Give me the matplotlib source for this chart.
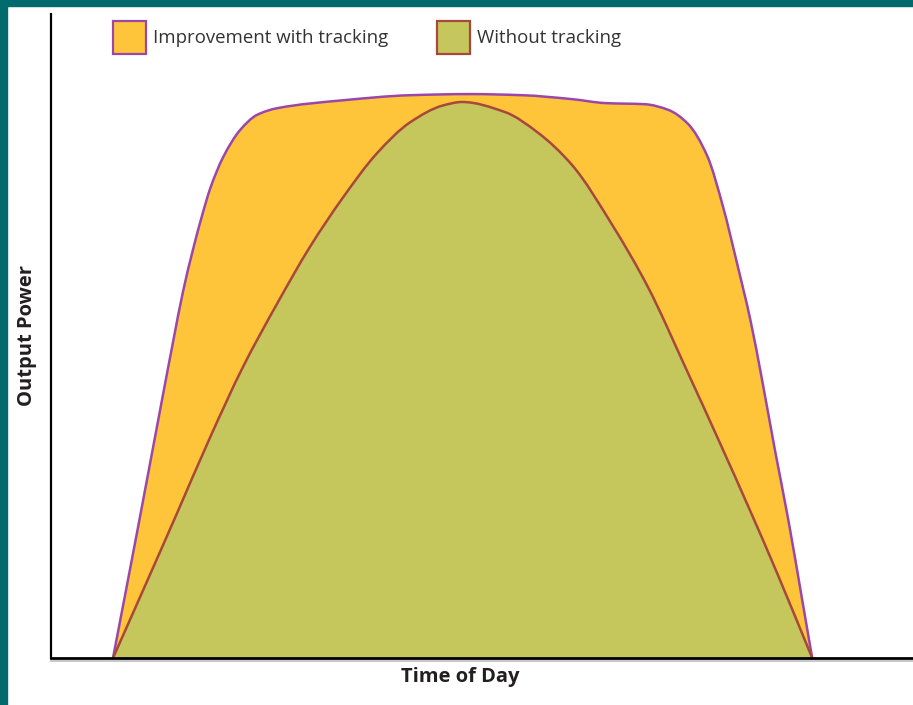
import numpy as np
import matplotlib as mpl
import matplotlib.pyplot as plt
from matplotlib.patches import Rectangle, PathPatch
from matplotlib.path import Path
from matplotlib.lines import Line2D

mpl.rcParams['font.family'] = ['Open Sans', 'DejaVu Sans']

# Data: time of day (h) and relative output power
hours_tracking = [6.00, 6.43, 6.84, 7.03, 7.20, 7.37, 7.53, 7.67, 7.89, 8.18, 8.47, 8.82, 9.95,
                  11.10, 12.13, 13.02, 13.88, 14.45, 15.13, 15.53, 15.87, 16.20, 16.47, 16.71,
                  16.94, 17.14, 17.36, 17.59, 17.83, 18.00]
power_tracking = [0.0, 0.232, 0.457, 0.560, 0.649, 0.723, 0.785, 0.833, 0.888, 0.936, 0.963, 0.975, 0.989,
                  0.998, 1.000, 0.998, 0.991, 0.984, 0.982, 0.972, 0.947, 0.890, 0.800, 0.700,
                  0.599, 0.493, 0.369, 0.245, 0.102, 0.0]

hours_fixed = [6.00, 6.52, 7.10, 7.67, 8.23, 8.82, 9.38, 9.95, 10.53, 11.10, 11.67, 11.99,
               12.73, 13.30, 13.88, 14.58, 15.17, 15.87, 16.40, 16.94, 17.40, 18.00]
power_fixed = [0.0, 0.121, 0.257, 0.392, 0.516, 0.629, 0.729, 0.817, 0.895, 0.950, 0.980, 0.986,
               0.968, 0.931, 0.874, 0.766, 0.660, 0.505, 0.385, 0.260, 0.150, 0.0]

labels = ['Improvement with tracking', 'Without tracking']
fill_colors = ['#FFC53A', '#C5C65B']
edge_colors = ['#9B47AA', '#A8483A']


def smooth_path(xs, ys, close=False):
    # monotone cubic (Fritsch-Carlson) through the read points, as Bezier segments
    x = np.asarray(xs, float)
    y = np.asarray(ys, float)
    h = np.diff(x)
    d = np.diff(y) / h
    m = np.zeros_like(x)
    m[0], m[-1] = d[0], d[-1]
    for k in range(1, len(x) - 1):
        if d[k - 1] * d[k] > 0:
            w1 = 2 * h[k] + h[k - 1]
            w2 = h[k] + 2 * h[k - 1]
            m[k] = (w1 + w2) / (w1 / d[k - 1] + w2 / d[k])
    verts = [(x[0], y[0])]
    codes = [Path.MOVETO]
    for k in range(len(x) - 1):
        verts += [(x[k] + h[k] / 3, y[k] + m[k] * h[k] / 3),
                  (x[k + 1] - h[k] / 3, y[k + 1] - m[k + 1] * h[k] / 3),
                  (x[k + 1], y[k + 1])]
        codes += [Path.CURVE4] * 3
    if close:
        verts.append((x[0], y[0]))
        codes.append(Path.CLOSEPOLY)
    return Path(verts, codes)


W, H = 913, 705
fig = plt.figure(figsize=(W / 100, H / 100), dpi=100)
ax = fig.add_axes([51 / W, 1 - 658 / H, (W - 51) / W, (658 - 14) / H])

for xs, ys, fc, ec in [(hours_tracking, power_tracking, fill_colors[0], edge_colors[0]),
                       (hours_fixed, power_fixed, fill_colors[1], edge_colors[1])]:
    ax.add_patch(PathPatch(smooth_path(xs, ys, close=True), facecolor=fc, edgecolor='none'))
    ax.add_patch(PathPatch(smooth_path(xs, ys), facecolor='none', edgecolor=ec,
                           linewidth=1.8, joinstyle='round'))

ax.set_xlim(4.936, 19.73)
ax.set_ylim(0, 1.142)
ax.set_xticks([])
ax.set_yticks([])
for s in ['top', 'right']:
    ax.spines[s].set_visible(False)
ax.spines['left'].set_linewidth(1.6)
ax.spines['bottom'].set_linewidth(2.0)
ax.spines['left'].set_color('black')
ax.spines['bottom'].set_color('black')
ax.spines['bottom'].set_zorder(5)

# faint grey shadow under the x axis
fig.lines.append(Line2D([51 / W, 1], [1 - 660.5 / H, 1 - 660.5 / H], transform=fig.transFigure,
                        color='#BDBDBD', linewidth=1.2))

# axis titles
fig.text(460 / W, 1 - 677 / H, 'Time of Day', ha='center', va='center',
         fontsize=14.5, fontweight='bold', color='#231F20')
fig.text(27 / W, 1 - 336 / H, 'Output Power', ha='center', va='center', rotation=90,
         fontsize=14.5, fontweight='bold', color='#231F20')

# legend drawn by hand
for x0, lab, fc, ec in zip([113, 437], labels, fill_colors, edge_colors):
    fig.patches.append(Rectangle((x0 / W, 1 - 54 / H), 33 / W, 33 / H, transform=fig.transFigure,
                                 facecolor=fc, edgecolor=ec, linewidth=1.6))
    fig.text((x0 + 40) / W, 1 - 38 / H, lab, ha='left', va='center', fontsize=13.4, color='#333333')

# teal frame on left and top
teal = '#006A6D'
fig.patches.append(Rectangle((0, 0), 7 / W, 1, transform=fig.transFigure, color=teal, zorder=10))
fig.patches.append(Rectangle((0, 1 - 6 / H), 1, 6 / H, transform=fig.transFigure, color=teal, zorder=10))

fig.savefig('out.png', dpi=100)
